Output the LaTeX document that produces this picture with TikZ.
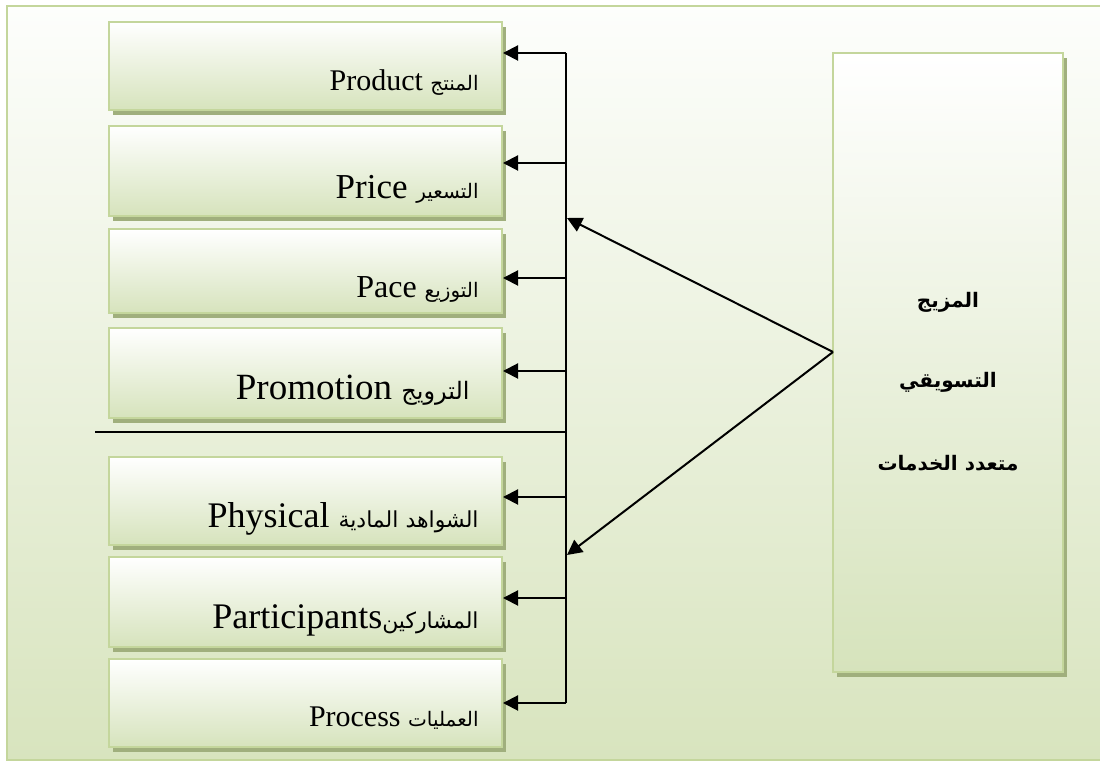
\documentclass[tikz,border=0pt]{standalone}
\usepackage{fontspec}
\setmainfont{Liberation Serif}
\newfontfamily\arabicfont[Script=Arabic]{DejaVu Sans}
\TeXXeTstate=1
\usetikzlibrary{arrows.meta,shadows}
\definecolor{boxgreen}{RGB}{214,227,188}
\definecolor{edgegreen}{RGB}{196,214,156}
\definecolor{shadegreen}{RGB}{160,175,125}
\definecolor{framegreen}{RGB}{216,228,190}
\definecolor{framewhite}{RGB}{253,254,252}
\newcommand{\arsize}[1]{\arabicfont\fontsize{#1}{#1}\selectfont}
\tikzset{
  itembox/.style={draw=edgegreen, line width=1pt, top color=white, bottom color=boxgreen,
    minimum width=196.5pt, minimum height=44pt,
    general shadow={fill=shadegreen, shadow xshift=2pt, shadow yshift=-2.5pt}},
  mixbox/.style={draw=edgegreen, line width=1pt, top color=white, bottom color=boxgreen,
    minimum width=115pt, minimum height=309.5pt,
    general shadow={fill=shadegreen, shadow xshift=2pt, shadow yshift=-2.5pt}},
  lbl/.style={anchor=base east, inner sep=0pt},
  mixlbl/.style={inner sep=0pt, font=\arabicfont\bfseries\fontsize{10}{12}\selectfont},
  line/.style={black, line width=1pt},
  arr/.style={line, -{Triangle[length=7.5pt,width=7.5pt]}}
}

\begin{document}
\begin{tikzpicture}[x=0.5pt,y=-0.5pt]
  \useasboundingbox (0,0) rectangle (1100,763);
  % background frame
  \fill[top color=framewhite, bottom color=framegreen] (7,6) rectangle (1100,760);
  \draw[edgegreen, line width=1pt] (1100,6) -- (7,6) -- (7,760) -- (1100,760);
  % left boxes
  \node[itembox] (prod) at (305.5,66.5) {};
  \node[itembox, minimum height=45pt] (price) at (305.5,171) {};
  \node[itembox, minimum height=42pt] (place) at (305.5,271.5) {};
  \node[itembox, minimum height=45pt] (promo) at (305.5,373) {};
  \node[itembox] (phys) at (305.5,501) {};
  \node[itembox, minimum height=45pt] (part) at (305.5,602) {};
  \node[itembox] (proc) at (305.5,703.5) {};
  % labels
  \node[lbl, font=\fontsize{15}{18}\selectfont] (tprod) at (479,91) {Product {\arsize{10}\beginR المنتج\endR}};
  \node[lbl, font=\fontsize{17.5}{20}\selectfont] (tprice) at (479,199) {Price {\arsize{10}\beginR التسعير\endR}};
  \node[lbl, font=\fontsize{16}{19}\selectfont] (tplace) at (479,298) {Pace {\arsize{10}\beginR التوزيع\endR}};
  \node[lbl, font=\fontsize{18.5}{22}\selectfont] (tpromo) at (470,400) {Promotion {\arsize{12}\beginR الترويج\endR}};
  \node[lbl, font=\fontsize{18}{21}\selectfont] (tphys) at (479,528) {Physical {\arsize{11}\beginR الشواهد المادية\endR}};
  \node[lbl, font=\fontsize{18}{21}\selectfont] (tpart) at (479,629) {Participants{\arsize{11}\beginR المشاركين\endR}};
  \node[lbl, font=\fontsize{15}{18}\selectfont] (tproc) at (479,727) {Process {\arsize{10}\beginR العمليات\endR}};
  % right box
  \node[mixbox] (mix) at (948,362.5) {};
  \node[mixlbl] (mixa) at (948,302) {\beginR المزيج\endR};
  \node[mixlbl] (mixb) at (948,382) {\beginR التسويقي\endR};
  \node[mixlbl] (mixc) at (948,463) {\beginR متعدد الخدمات\endR};
  % spine and arrows
  \coordinate (stop) at (566,53);
  \coordinate (sbot) at (566,703);
  \draw[line] (stop) -- (sbot);
  \foreach \b/\y in {prod/53, price/163, place/278, promo/371, phys/497, part/598, proc/703}{
    \coordinate (s\b) at (566,\y);
    \draw[arr] (s\b) -- (s\b -| \b.east);
  }
  \coordinate (sep) at (95,432);
  \draw[line] (sep) -- (sep -| stop);
  \coordinate (mixin) at (833,352);
  \coordinate (hitu) at (567,218);
  \coordinate (hitd) at (567,555);
  \draw[arr] (mixin) -- (hitu);
  \draw[arr] (mixin) -- (hitd);
\end{tikzpicture}
\end{document}
